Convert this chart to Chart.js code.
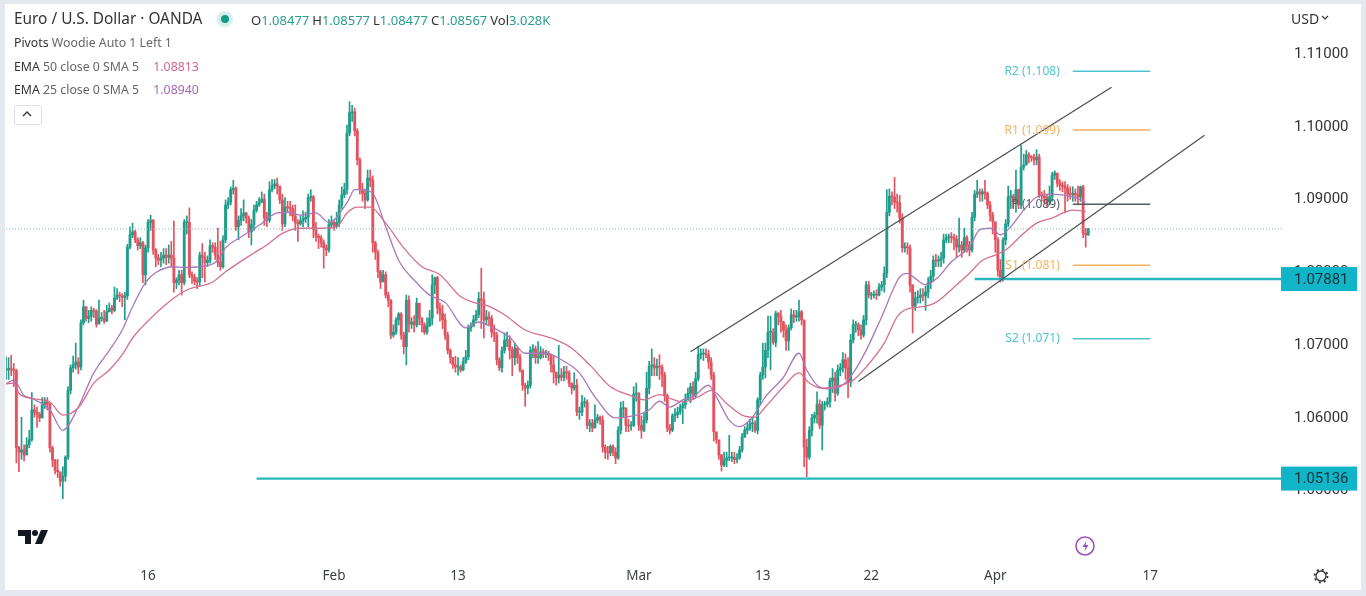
<!DOCTYPE html>
<html lang="en">
<head>
<meta charset="UTF-8">
<title>Euro / U.S. Dollar OANDA</title>
<script src="https://cdn.jsdelivr.net/npm/chart.js"></script>
<style>
  html, body { margin: 0; height: 100%; overflow: hidden; background: #e6e8ef; font-family: "Noto Sans", sans-serif; }
  #panel { position: absolute; left: 5px; top: 4px; width: 1356px; height: 586px; background: #fff; }
  canvas { position: absolute; left: 0; top: 0; }
  .row { position: absolute; left: 14px; font-size: 12.3px; color: #666; white-space: nowrap; line-height: 16px; }
  .row b { font-weight: 400; color: #333; }
  #title { font-size: 15.4px; color: #333; top: 11px; }
  #ohlc { left: 251px; top: 12px; font-size: 13px; color: #333; }
  #ohlc span { color: #2a9d8f; margin-right: 3px; }
  #dot { position: absolute; left: 217px; top: 11px; width: 8px; height: 8px; border-radius: 50%; background: #0f9d87; border: 4px solid #d8f0ec; }
  #collapse { position: absolute; left: 14px; top: 105px; width: 26px; height: 18px; border: 1px solid #dfe1e6; border-radius: 3px; background: #fff; }
  #usd { position: absolute; left: 1291px; top: 9px; font-size: 14px; color: #333; }
  svg { position: absolute; overflow: visible; }
</style>
</head>
<body>
<div id="panel"></div>
<canvas id="chart" width="1366" height="596"></canvas>

<div class="row" id="title">Euro / U.S. Dollar · OANDA</div>
<div id="dot"></div>
<div class="row" id="ohlc">O<span>1.08477</span>H<span>1.08577</span>L<span>1.08477</span>C<span>1.08567</span>Vol<span>3.028K</span></div>
<div class="row" style="top:35px"><b>Pivots</b> Woodie Auto 1 Left 1</div>
<div class="row" style="top:59px"><b>EMA</b> 50 close 0 SMA 5 <span style="color:#d4688c;margin-left:11px">1.08813</span></div>
<div class="row" style="top:82px"><b>EMA</b> 25 close 0 SMA 5 <span style="color:#a468b8;margin-left:11px">1.08940</span></div>
<div id="collapse"></div>
<svg style="left:0;top:0" width="1366" height="596">
  <path d="M23 116l4-4 4 4" fill="none" stroke="#333" stroke-width="1.4"/>
  <path d="M1322 16l3 3 3-3" fill="none" stroke="#333" stroke-width="1.2"/>
  <!-- tv logo -->
  <path d="M18 530h13v14h-6v-8h-7z" fill="#131722"/>
  <circle cx="35" cy="533" r="3" fill="#131722"/>
  <path d="M41 530h7l-6 14h-7z" fill="#131722"/>
  <!-- lightning -->
  <circle cx="1085" cy="546" r="9" fill="#fff" stroke="#9c4db8" stroke-width="1.5"/>
  <path d="M1086.500 540.500l-4 6.500h3l-1 4.500 4-6.500h-3z" fill="#9c4db8"/>
  <!-- gear -->
  <circle cx="1321" cy="576" r="5" fill="none" stroke="#333" stroke-width="1.3"/>
  <circle cx="1321" cy="576" r="6.500" fill="none" stroke="#333" stroke-width="1.8" stroke-dasharray="2 3.100"/>
</svg>
<div id="usd">USD</div>

<script>
  const firstOpen = 1.0663;
  const closes = [
    1.0663,1.0665,1.0664,1.0662,1.0556,1.0550,1.0553,1.0546,1.0560,1.0567,1.0608,1.0605,1.0602,1.0597,1.0615,1.0619,1.0616,1.0556,1.0539,1.0525,
    1.0523,1.0510,1.0517,1.0543,1.0635,1.0666,1.0670,1.0674,1.0667,1.0728,1.0750,1.0734,1.0737,1.0745,1.0744,1.0726,1.0734,1.0734,1.0730,1.0743,
    1.0748,1.0745,1.0762,1.0766,1.0765,1.0763,1.0765,1.0832,1.0849,1.0853,1.0842,1.0834,1.0838,1.0794,1.0831,1.0866,1.0869,1.0828,1.0817,1.0814,
    1.0817,1.0821,1.0818,1.0821,1.0817,1.0783,1.0787,1.0794,1.0783,1.0866,1.0866,1.0794,1.0791,1.0785,1.0784,1.0821,1.0818,1.0811,1.0814,1.0834,
    1.0832,1.0821,1.0811,1.0805,1.0842,1.0890,1.0894,1.0911,1.0913,1.0860,1.0869,1.0875,1.0879,1.0872,1.0853,1.0863,1.0883,1.0890,1.0894,1.0898,
    1.0872,1.0869,1.0911,1.0916,1.0919,1.0916,1.0897,1.0864,1.0887,1.0886,1.0885,1.0875,1.0866,1.0864,1.0868,1.0871,1.0873,1.0900,1.0901,1.0856,
    1.0847,1.0845,1.0838,1.0831,1.0828,1.0863,1.0866,1.0861,1.0866,1.0890,1.0904,1.0911,1.0989,1.1017,1.1018,1.0992,1.0952,1.0911,1.0906,1.0897,
    1.0927,1.0924,1.0838,1.0825,1.0798,1.0784,1.0794,1.0766,1.0759,1.0711,1.0715,1.0732,1.0740,1.0711,1.0695,1.0759,1.0726,1.0729,1.0725,1.0755,
    1.0734,1.0725,1.0715,1.0723,1.0734,1.0780,1.0790,1.0748,1.0741,1.0732,1.0711,1.0690,1.0680,1.0670,1.0667,1.0667,1.0663,1.0674,1.0681,1.0721,
    1.0723,1.0732,1.0739,1.0761,1.0759,1.0732,1.0736,1.0734,1.0715,1.0711,1.0677,1.0666,1.0690,1.0704,1.0704,1.0690,1.0680,1.0693,1.0680,1.0663,
    1.0642,1.0638,1.0642,1.0690,1.0692,1.0680,1.0680,1.0688,1.0685,1.0686,1.0684,1.0670,1.0660,1.0652,1.0656,1.0653,1.0660,1.0659,1.0645,1.0638,
    1.0642,1.0605,1.0605,1.0618,1.0619,1.0587,1.0590,1.0583,1.0594,1.0598,1.0594,1.0557,1.0550,1.0549,1.0558,1.0550,1.0542,1.0580,1.0610,1.0611,
    1.0587,1.0586,1.0587,1.0630,1.0631,1.0587,1.0580,1.0594,1.0638,1.0668,1.0670,1.0666,1.0668,1.0667,1.0656,1.0628,1.0583,1.0580,1.0600,1.0602,
    1.0605,1.0611,1.0615,1.0622,1.0631,1.0640,1.0628,1.0651,1.0684,1.0685,1.0685,1.0684,1.0674,1.0656,1.0578,1.0567,1.0546,1.0532,1.0539,1.0542,
    1.0542,1.0543,1.0540,1.0542,1.0553,1.0571,1.0580,1.0583,1.0589,1.0589,1.0580,1.0622,1.0656,1.0667,1.0690,1.0715,1.0715,1.0701,1.0741,1.0737,
    1.0729,1.0718,1.0703,1.0721,1.0739,1.0736,1.0736,1.0743,1.0732,1.0557,1.0543,1.0580,1.0597,1.0601,1.0616,1.0587,1.0615,1.0616,1.0619,1.0648,
    1.0652,1.0631,1.0663,1.0666,1.0677,1.0666,1.0646,1.0704,1.0725,1.0725,1.0718,1.0711,1.0732,1.0780,1.0766,1.0766,1.0767,1.0766,1.0777,1.0780,
    1.0796,1.0880,1.0902,1.0901,1.0894,1.0893,1.0872,1.0831,1.0832,1.0831,1.0780,1.0751,1.0762,1.0763,1.0766,1.0765,1.0770,1.0783,1.0792,1.0814,
    1.0813,1.0814,1.0817,1.0842,1.0845,1.0846,1.0845,1.0843,1.0832,1.0835,1.0828,1.0845,1.0835,1.0828,1.0873,1.0905,1.0908,1.0905,1.0908,1.0906,
    1.0890,1.0876,1.0867,1.0842,1.0800,1.0788,1.0842,1.0864,1.0901,1.0902,1.0894,1.0911,1.0890,1.0942,1.0945,1.0959,1.0956,1.0955,1.0952,1.0956,
    1.0904,1.0902,1.0900,1.0894,1.0901,1.0931,1.0934,1.0920,1.0917,1.0916,1.0913,1.0905,1.0904,1.0906,1.0904,1.0901,1.0915,1.0851,1.0849,1.0857
  ];
  const highs = [
    1.0681,1.0680,1.0683,1.0672,1.0664,1.0558,1.0598,1.0560,1.0570,1.0580,1.0632,1.0615,1.0612,1.0605,1.0625,1.0625,1.0625,1.0618,1.0558,1.0540,
    1.0540,1.0522,1.0530,1.0545,1.0640,1.0670,1.0682,1.0700,1.0680,1.0732,1.0759,1.0750,1.0745,1.0750,1.0748,1.0746,1.0759,1.0742,1.0745,1.0752,
    1.0755,1.0752,1.0777,1.0775,1.0770,1.0768,1.0770,1.0836,1.0860,1.0865,1.0855,1.0845,1.0845,1.0840,1.0835,1.0870,1.0876,1.0870,1.0830,1.0822,
    1.0825,1.0830,1.0830,1.0835,1.0840,1.0868,1.0790,1.0800,1.0800,1.0870,1.0875,1.0886,1.0798,1.0795,1.0790,1.0825,1.0837,1.0825,1.0820,1.0842,
    1.0838,1.0838,1.0858,1.0840,1.0848,1.0897,1.0900,1.0915,1.0924,1.0915,1.0875,1.0885,1.0897,1.0880,1.0875,1.0870,1.0890,1.0895,1.0900,1.0908,
    1.0905,1.0880,1.0922,1.0925,1.0925,1.0927,1.0915,1.0905,1.0900,1.0895,1.0895,1.0890,1.0890,1.0870,1.0875,1.0882,1.0880,1.0905,1.0911,1.0903,
    1.0866,1.0850,1.0848,1.0842,1.0835,1.0870,1.0875,1.0870,1.0880,1.0897,1.0915,1.0920,1.1000,1.1032,1.1027,1.1023,1.0995,1.0955,1.0920,1.0912,
    1.0938,1.0938,1.0930,1.0840,1.0828,1.0800,1.0800,1.0798,1.0770,1.0760,1.0725,1.0735,1.0742,1.0742,1.0715,1.0766,1.0765,1.0735,1.0738,1.0762,
    1.0740,1.0735,1.0728,1.0735,1.0745,1.0794,1.0791,1.0792,1.0755,1.0752,1.0740,1.0715,1.0692,1.0680,1.0682,1.0680,1.0670,1.0680,1.0690,1.0725,
    1.0728,1.0738,1.0745,1.0770,1.0803,1.0770,1.0745,1.0743,1.0738,1.0725,1.0715,1.0680,1.0695,1.0714,1.0715,1.0710,1.0695,1.0700,1.0695,1.0685,
    1.0662,1.0645,1.0648,1.0695,1.0698,1.0696,1.0702,1.0695,1.0692,1.0690,1.0689,1.0685,1.0683,1.0660,1.0697,1.0665,1.0668,1.0668,1.0662,1.0645,
    1.0659,1.0650,1.0612,1.0628,1.0625,1.0622,1.0595,1.0595,1.0615,1.0602,1.0600,1.0600,1.0560,1.0558,1.0560,1.0560,1.0556,1.0585,1.0619,1.0620,
    1.0605,1.0595,1.0592,1.0640,1.0645,1.0632,1.0600,1.0605,1.0660,1.0675,1.0692,1.0680,1.0678,1.0684,1.0670,1.0660,1.0630,1.0588,1.0603,1.0610,
    1.0612,1.0616,1.0620,1.0630,1.0638,1.0645,1.0647,1.0660,1.0696,1.0692,1.0692,1.0692,1.0690,1.0680,1.0660,1.0572,1.0560,1.0547,1.0550,1.0550,
    1.0573,1.0550,1.0550,1.0548,1.0558,1.0576,1.0585,1.0590,1.0595,1.0597,1.0593,1.0625,1.0660,1.0700,1.0700,1.0737,1.0737,1.0720,1.0744,1.0742,
    1.0745,1.0730,1.0725,1.0725,1.0747,1.0745,1.0745,1.0759,1.0745,1.0730,1.0568,1.0585,1.0602,1.0605,1.0633,1.0622,1.0620,1.0620,1.0625,1.0652,
    1.0665,1.0660,1.0670,1.0672,1.0687,1.0685,1.0680,1.0712,1.0732,1.0730,1.0728,1.0725,1.0738,1.0785,1.0785,1.0770,1.0772,1.0773,1.0782,1.0785,
    1.0805,1.0911,1.0912,1.0908,1.0928,1.0905,1.0903,1.0878,1.0838,1.0838,1.0835,1.0780,1.0770,1.0772,1.0775,1.0775,1.0778,1.0790,1.0800,1.0820,
    1.0822,1.0820,1.0825,1.0850,1.0850,1.0850,1.0852,1.0850,1.0848,1.0872,1.0840,1.0858,1.0848,1.0840,1.0880,1.0910,1.0924,1.0912,1.0912,1.0924,
    1.0908,1.0895,1.0880,1.0865,1.0845,1.0815,1.0845,1.0870,1.0916,1.0910,1.0905,1.0938,1.0912,1.0972,1.0960,1.0965,1.0962,1.0958,1.0960,1.0966,
    1.0960,1.0908,1.0910,1.0905,1.0916,1.0935,1.0937,1.0930,1.0925,1.0922,1.0922,1.0918,1.0915,1.0915,1.0912,1.0916,1.0916,1.0917,1.0858,1.0858
  ];
  const lows = [
    1.0650,1.0650,1.0655,1.0640,1.0535,1.0523,1.0540,1.0538,1.0548,1.0556,1.0565,1.0598,1.0584,1.0592,1.0605,1.0610,1.0608,1.0550,1.0530,1.0520,
    1.0515,1.0503,1.0486,1.0510,1.0540,1.0630,1.0660,1.0664,1.0658,1.0663,1.0725,1.0730,1.0728,1.0730,1.0735,1.0722,1.0728,1.0730,1.0727,1.0730,
    1.0743,1.0740,1.0743,1.0760,1.0757,1.0750,1.0732,1.0760,1.0830,1.0845,1.0838,1.0828,1.0830,1.0783,1.0780,1.0825,1.0855,1.0822,1.0805,1.0808,
    1.0805,1.0810,1.0808,1.0810,1.0805,1.0770,1.0775,1.0780,1.0766,1.0780,1.0850,1.0790,1.0782,1.0780,1.0775,1.0778,1.0790,1.0784,1.0805,1.0810,
    1.0825,1.0815,1.0805,1.0800,1.0803,1.0838,1.0885,1.0890,1.0905,1.0855,1.0842,1.0862,1.0868,1.0865,1.0845,1.0835,1.0855,1.0880,1.0888,1.0893,
    1.0862,1.0860,1.0866,1.0908,1.0912,1.0905,1.0892,1.0855,1.0860,1.0880,1.0875,1.0868,1.0855,1.0840,1.0862,1.0860,1.0866,1.0860,1.0895,1.0845,
    1.0840,1.0830,1.0832,1.0803,1.0820,1.0825,1.0858,1.0855,1.0858,1.0860,1.0885,1.0900,1.0905,1.0985,1.1005,1.0985,1.0945,1.0905,1.0895,1.0885,
    1.0895,1.0915,1.0825,1.0815,1.0790,1.0775,1.0785,1.0762,1.0750,1.0706,1.0708,1.0712,1.0725,1.0705,1.0685,1.0670,1.0715,1.0720,1.0715,1.0722,
    1.0725,1.0715,1.0712,1.0712,1.0725,1.0725,1.0768,1.0740,1.0730,1.0720,1.0705,1.0685,1.0672,1.0665,1.0660,1.0656,1.0660,1.0662,1.0672,1.0677,
    1.0716,1.0725,1.0730,1.0735,1.0720,1.0707,1.0725,1.0725,1.0708,1.0702,1.0670,1.0662,1.0660,1.0686,1.0695,1.0678,1.0655,1.0670,1.0672,1.0660,
    1.0635,1.0613,1.0630,1.0638,1.0680,1.0672,1.0672,1.0678,1.0680,1.0680,1.0676,1.0660,1.0645,1.0642,1.0645,1.0648,1.0648,1.0650,1.0640,1.0630,
    1.0635,1.0600,1.0595,1.0600,1.0612,1.0582,1.0578,1.0578,1.0585,1.0590,1.0588,1.0550,1.0541,1.0540,1.0545,1.0545,1.0534,1.0540,1.0575,1.0598,
    1.0578,1.0578,1.0580,1.0585,1.0620,1.0580,1.0569,1.0578,1.0590,1.0630,1.0655,1.0655,1.0655,1.0650,1.0640,1.0620,1.0578,1.0575,1.0578,1.0592,
    1.0597,1.0602,1.0589,1.0610,1.0622,1.0618,1.0622,1.0625,1.0648,1.0678,1.0676,1.0680,1.0665,1.0650,1.0565,1.0562,1.0540,1.0524,1.0530,1.0530,
    1.0538,1.0537,1.0534,1.0535,1.0540,1.0550,1.0570,1.0575,1.0580,1.0578,1.0577,1.0575,1.0615,1.0650,1.0652,1.0680,1.0663,1.0698,1.0695,1.0725,
    1.0715,1.0708,1.0690,1.0690,1.0718,1.0728,1.0730,1.0730,1.0725,1.0530,1.0516,1.0540,1.0572,1.0590,1.0590,1.0582,1.0553,1.0608,1.0612,1.0612,
    1.0632,1.0620,1.0628,1.0655,1.0660,1.0650,1.0625,1.0640,1.0700,1.0715,1.0710,1.0705,1.0708,1.0725,1.0762,1.0760,1.0762,1.0760,1.0765,1.0772,
    1.0770,1.0790,1.0875,1.0890,1.0885,1.0880,1.0865,1.0825,1.0825,1.0822,1.0770,1.0714,1.0745,1.0755,1.0755,1.0758,1.0745,1.0762,1.0775,1.0785,
    1.0805,1.0805,1.0805,1.0810,1.0838,1.0838,1.0838,1.0828,1.0818,1.0825,1.0818,1.0825,1.0825,1.0820,1.0825,1.0868,1.0900,1.0895,1.0895,1.0898,
    1.0885,1.0868,1.0850,1.0825,1.0792,1.0784,1.0785,1.0835,1.0860,1.0885,1.0885,1.0880,1.0885,1.0885,1.0938,1.0945,1.0948,1.0950,1.0945,1.0945,
    1.0900,1.0895,1.0892,1.0888,1.0890,1.0895,1.0925,1.0915,1.0910,1.0908,1.0879,1.0895,1.0898,1.0895,1.0895,1.0890,1.0895,1.0845,1.0832,1.0848
  ];
  const opens = [firstOpen, ...closes.slice(0, -1)];

  const ema25Bars = [0,3,7,10,17,22,28,34,40,45,49,54,58,65,69,75,82,85,91,98,105,109,114,120,125,132,135,138,142,147,152,159,164,170,178,183,188,195,201,209,215,222,228,236,244,249,253,257,262,266,272,275,280,284,289,294,301,307,310,314,318,323,328,333,339,346,349,352,356,361,366,373,377,381,385,389,394,399,405,413,418];
  const ema25 = [1.0644,1.0649,1.0628,1.0624,1.0608,1.0580,1.0612,1.0659,1.0690,1.0718,1.0750,1.0783,1.0797,1.0805,1.0804,1.0805,1.0814,1.0831,1.0846,1.0862,1.0879,1.0880,1.0876,1.0879,1.0866,1.0893,1.0911,1.0911,1.0906,1.0860,1.0814,1.0783,1.0766,1.0756,1.0721,1.0729,1.0722,1.0708,1.0686,1.0686,1.0677,1.0659,1.0626,1.0597,1.0601,1.0608,1.0620,1.0612,1.0622,1.0626,1.0642,1.0626,1.0594,1.0585,1.0598,1.0626,1.0653,1.0686,1.0663,1.0642,1.0637,1.0640,1.0659,1.0690,1.0736,1.0791,1.0796,1.0789,1.0780,1.0791,1.0812,1.0832,1.0856,1.0858,1.0849,1.0860,1.0883,1.0901,1.0905,1.0901,1.0894];
  const ema50Bars = [0,3,5,10,17,22,28,34,40,45,49,56,65,70,80,85,96,101,107,114,120,128,132,136,141,147,154,161,168,176,182,186,193,201,211,219,226,234,241,247,253,257,262,268,273,279,285,290,294,301,307,311,316,321,328,333,340,345,349,355,360,368,373,378,383,387,394,399,405,413,418];
  const ema50 = [1.0644,1.0645,1.0631,1.0624,1.0619,1.0601,1.0611,1.0645,1.0663,1.0684,1.0707,1.0734,1.0762,1.0773,1.0784,1.0798,1.0824,1.0835,1.0851,1.0858,1.0858,1.0860,1.0879,1.0887,1.0887,1.0865,1.0831,1.0805,1.0794,1.0764,1.0755,1.0752,1.0739,1.0718,1.0707,1.0693,1.0670,1.0640,1.0629,1.0622,1.0629,1.0624,1.0619,1.0626,1.0635,1.0617,1.0601,1.0598,1.0612,1.0640,1.0659,1.0645,1.0638,1.0640,1.0649,1.0667,1.0700,1.0736,1.0747,1.0750,1.0756,1.0780,1.0796,1.0814,1.0821,1.0828,1.0851,1.0865,1.0872,1.0883,1.0881];

  const upperChannelBars = [265, 428];
  const upperChannel = [1.0688, 1.1052];
  const lowerChannelBars = [330, 464];
  const lowerChannel = [1.0647, 1.0986];

  const pivotBars = [413, 443];
  const pivotNames = ['R2', 'R1', 'P', 'S1', 'S2'];
  const pivotLevels = [1.1074, 1.0993, 1.0891, 1.0807, 1.0706];
  const pivotTexts = ['1.108', '1.099', '1.089', '1.081', '1.071'];
  const pivotColors = ['#4fc4cf', '#f2b25f', '#555a60', '#f2b25f', '#4fc4cf'];

  const supportLevels = [1.07881, 1.05136];
  const supportStart = [375, 97];

  const priceTicks = [1.05, 1.06, 1.07, 1.08, 1.09, 1.10, 1.11];
  const dateTickBars = [55, 127, 175, 245, 293, 335, 383, 443];
  const dateTickLabels = ['16', 'Feb', '13', 'Mar', '13', '22', 'Apr', '17'];

  const lastBar = 494;
  const up = '#1f9d8a', down = '#e2525f';
  const barColor = closes.map((c, i) => c >= opens[i] ? up : down);

  const lineSet = (xs, ys, color, width, extra) => Object.assign({
    type: 'line',
    data: xs.map((x, i) => ({ x: x, y: ys[i] })),
    borderColor: color,
    borderWidth: width,
    pointRadius: 0,
    order: 1
  }, extra);

  const datasets = [
    { data: closes.map((c, i) => ({ x: i, y: [lows[i], highs[i]] })), backgroundColor: barColor, barThickness: 1, grouped: false, order: 4 },
    { data: closes.map((c, i) => ({ x: i, y: [opens[i], c] })), backgroundColor: barColor, barThickness: 2.2, minBarLength: 1, grouped: false, order: 3 },
    lineSet([0, lastBar], [closes[closes.length - 1], closes[closes.length - 1]], '#7fb8b0', 1, { borderDash: [1, 2] }),
    lineSet(ema50Bars, ema50, '#d4708e', 1.3, { cubicInterpolationMode: 'monotone' }),
    lineSet(ema25Bars, ema25, '#a878bc', 1.3, { cubicInterpolationMode: 'monotone' }),
    lineSet(upperChannelBars, upperChannel, '#4a4d52', 1.2),
    lineSet(lowerChannelBars, lowerChannel, '#4a4d52', 1.2)
  ];
  pivotLevels.forEach((lvl, i) => datasets.push(lineSet(pivotBars, [lvl, lvl], pivotColors[i], 1.5)));
  supportLevels.forEach((lvl, i) => datasets.push(lineSet([supportStart[i], lastBar], [lvl, lvl], '#2bb8bd', 2.4)));

  const overlays = {
    id: 'overlays',
    afterDatasetsDraw(chart) {
      const { ctx, scales: { x, y } } = chart;
      ctx.save();
      ctx.font = '12px "Noto Sans"';
      ctx.textAlign = 'right';
      ctx.textBaseline = 'middle';
      pivotLevels.forEach((lvl, i) => {
        ctx.fillStyle = pivotColors[i];
        ctx.fillText(pivotNames[i] + ' (' + pivotTexts[i] + ')', x.getPixelForValue(pivotBars[0]) - 13, y.getPixelForValue(lvl));
      });
      ctx.restore();
    },
    // price tags sit on top of the axis labels
    afterDraw(chart) {
      const { ctx, scales: { y } } = chart;
      ctx.save();
      ctx.font = '15px Roboto';
      ctx.textBaseline = 'middle';
      supportLevels.forEach(lvl => {
        const py = y.getPixelForValue(lvl);
        ctx.fillStyle = '#12b4c8';
        ctx.fillRect(1281, py - 12, 76, 24);
        ctx.fillStyle = '#16323a';
        ctx.fillText(lvl.toFixed(5), 1294, py + 1);
      });
      ctx.restore();
    }
  };

  new Chart(document.getElementById('chart'), {
    type: 'bar',
    data: { datasets: datasets },
    plugins: [overlays],
    options: {
      responsive: false,
      animation: false,
      layout: { padding: { left: 6, top: 10 } },
      plugins: { legend: { display: false }, tooltip: { enabled: false } },
      scales: {
        x: {
          type: 'linear',
          min: 0,
          max: lastBar,
          offset: false,
          grid: { display: false, drawTicks: false },
          border: { display: false },
          afterBuildTicks: axis => { axis.ticks = dateTickBars.map(v => ({ value: v })); },
          afterFit: axis => { axis.height = 36; },
          ticks: {
            autoSkip: false,
            maxRotation: 0,
            padding: 8,
            color: '#3a3e46',
            font: { family: 'Noto Sans', size: 13.5 },
            callback: (v, i) => dateTickLabels[i]
          }
        },
        y: {
          position: 'right',
          min: 1.04016,
          max: 1.11582,
          grid: { display: false, drawTicks: false },
          border: { display: false },
          afterBuildTicks: axis => { axis.ticks = priceTicks.map(v => ({ value: v })); },
          // keep the plot edges where they were set, no room for half labels
          afterFit: axis => { axis.width = 84; axis.paddingTop = 0; axis.paddingBottom = 0; },
          ticks: {
            autoSkip: false,
            padding: 12,
            color: '#333',
            // blank first line with a small line height nudges the label down 2px
            font: { family: 'Roboto', size: 15, lineHeight: '4px' },
            callback: v => ['', v.toFixed(5)]
          }
        }
      }
    }
  });
</script>
</body>
</html>
